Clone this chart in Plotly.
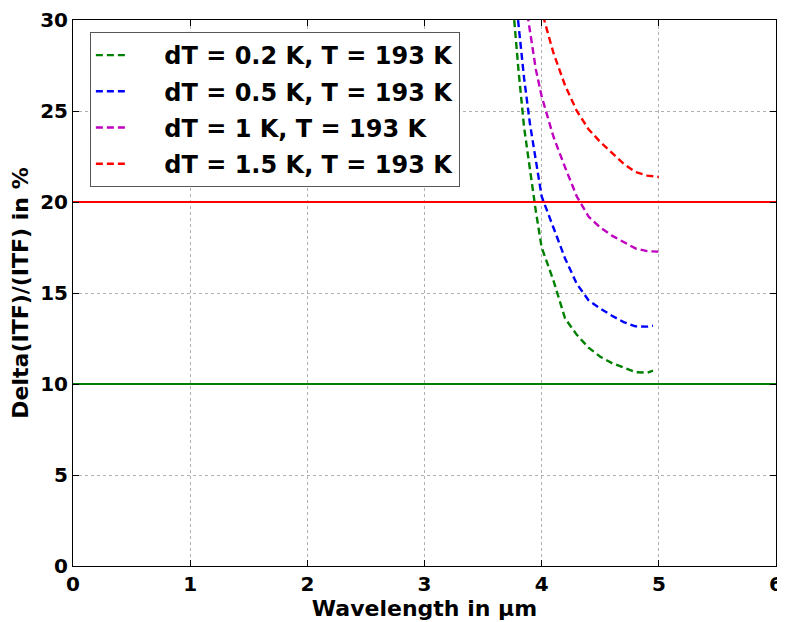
import plotly.graph_objects as go

# Data
wl_02 = [3.75, 3.8, 3.85, 3.9, 3.95, 4.0, 4.1, 4.2, 4.3, 4.4, 4.5, 4.6, 4.7, 4.8, 4.9, 4.95]
dv_02 = [31.2, 27.4, 24.1, 21.8, 19.5, 17.5, 15.7, 13.6, 12.7, 12.0, 11.5, 11.15, 10.9, 10.65, 10.62, 10.73]

wl_05 = [3.75, 3.8, 3.85, 3.9, 3.95, 4.0, 4.1, 4.2, 4.3, 4.4, 4.5, 4.6, 4.7, 4.8, 4.9, 4.95]
dv_05 = [33.0, 29.7, 26.8, 24.3, 22.2, 20.3, 18.6, 16.9, 15.5, 14.6, 14.15, 13.75, 13.4, 13.17, 13.15, 13.2]

wl_10 = [3.85, 3.9, 3.95, 4.0, 4.1, 4.2, 4.3, 4.4, 4.5, 4.6, 4.7, 4.8, 4.9, 5.0]
dv_10 = [31.5, 29.3, 27.3, 25.8, 23.6, 21.9, 20.3, 19.2, 18.6, 18.15, 17.8, 17.45, 17.3, 17.27]

wl_15 = [3.95, 4.0, 4.1, 4.2, 4.3, 4.4, 4.5, 4.6, 4.7, 4.8, 4.9, 5.0]
dv_15 = [32.0, 30.5, 28.2, 26.4, 25.0, 24.0, 23.3, 22.7, 22.1, 21.65, 21.45, 21.38]

series_names = ["dT = 0.2 K, T = 193 K", "dT = 0.5 K, T = 193 K",
                "dT = 1 K, T = 193 K", "dT = 1.5 K, T = 193 K"]
series_colors = ["#008000", "#0000ff", "#bf00bf", "#ff0000"]

limit_x = [0, 6]
limit_low = [10, 10]
limit_high = [20, 20]

FONT = "DejaVu Sans"
LEGEND_PAD = "\u00a0\u00a0\u00a0\u00a0"  # visual gap between legend sample and label

fig = go.Figure()

for i, (wl, dv) in enumerate([(wl_02, dv_02), (wl_05, dv_05), (wl_10, dv_10), (wl_15, dv_15)]):
    fig.add_trace(go.Scatter(
        x=wl, y=dv, mode="lines", name=LEGEND_PAD + series_names[i],
        legendgroup=f"g{i}",
        line=dict(color=series_colors[i], width=2.4, dash="7px,4px"),
    ))

fig.add_trace(go.Scatter(x=limit_x, y=limit_low, mode="lines", showlegend=False,
                         line=dict(color="#008000", width=2)))
fig.add_trace(go.Scatter(x=limit_x, y=limit_high, mode="lines", showlegend=False,
                         line=dict(color="#ff0000", width=2)))

axis_common = dict(
    showline=True, linecolor="black", linewidth=1, mirror="allticks",
    ticks="inside", ticklen=6, tickcolor="black",
    showgrid=True, gridcolor="#b0b0b0", griddash="dot", gridwidth=1,
    zeroline=False, automargin=False,
    tickfont=dict(family=FONT, size=20, color="black", weight="bold"),
)

# the page adds an 8px body margin, so the figure is sized/placed to compensate
fig.update_layout(
    width=777, height=614,
    margin=dict(l=65, r=9, t=12, b=56),
    paper_bgcolor="white", plot_bgcolor="white",
    font=dict(family=FONT, color="black"),
    xaxis=dict(range=[0, 6], dtick=1, **axis_common,
               title=dict(text="<b>Wavelength in µm</b>", standoff=2,
                          font=dict(family=FONT, size=22, color="black"))),
    yaxis=dict(range=[0, 30], dtick=5, **axis_common,
               title=dict(text="<b>Delta(ITF)/(ITF) in %</b>", standoff=12,
                          font=dict(family=FONT, size=22, color="black"))),
    legend=dict(
        x=0.024, y=0.978, xanchor="left", yanchor="top",
        bgcolor="white", bordercolor="#555555", borderwidth=1,
        font=dict(family=FONT, size=24, color="black", weight="bold"),
        tracegroupgap=2, traceorder="grouped", itemwidth=30,
    ),
    showlegend=True,
)

fig.write_html("out.html")
